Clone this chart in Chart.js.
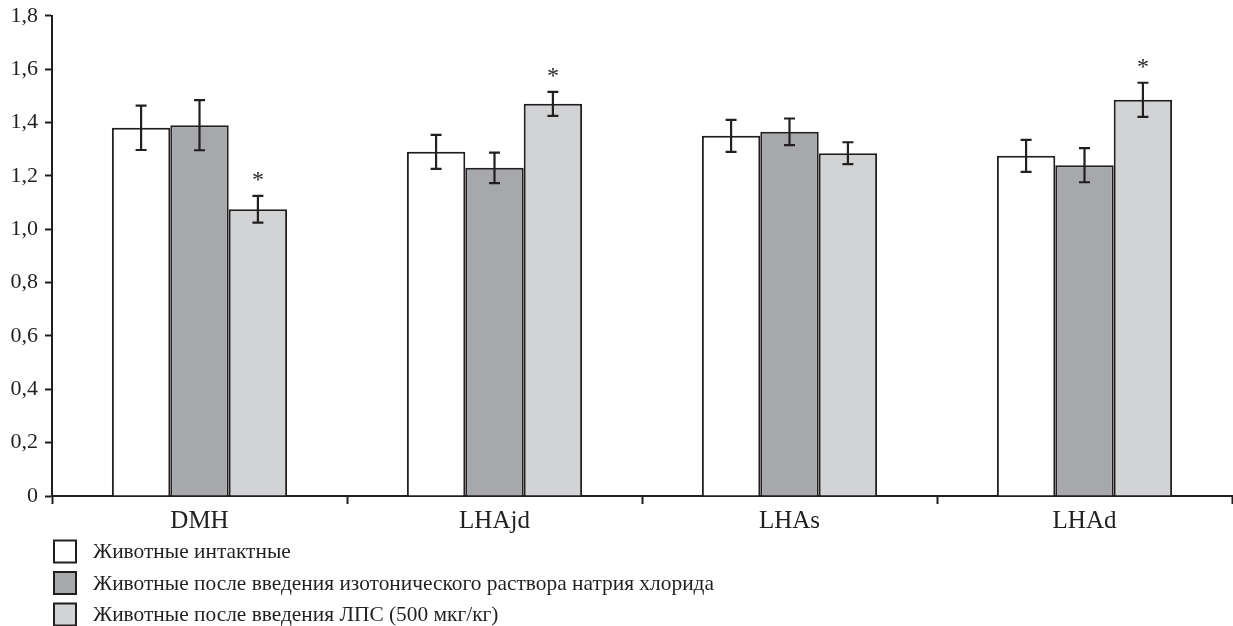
<!DOCTYPE html>
<html lang="ru">
<head>
<meta charset="utf-8">
<title>Экспрессия в областях гипоталамуса</title>
<script src="https://cdn.jsdelivr.net/npm/chart.js@4.4.1/dist/chart.umd.min.js"></script>
<style>
  html, body { margin: 0; padding: 0; background: #ffffff; }
  #wrap { position: relative; width: 1233px; height: 626px; }
</style>
</head>
<body>
<div id="wrap"><canvas id="chart" width="1233" height="626"></canvas></div>
<script>
// Regions of the hypothalamus
const categories = ['DMH', 'LHAjd', 'LHAs', 'LHAd'];

// Group labels
const seriesNames = [
  'Животные интактные',
  'Животные после введения изотонического раствора натрия хлорида',
  'Животные после введения ЛПС (500 мкг/кг)'
];

// Mean values per group
const intactValues = [1.38, 1.29, 1.35, 1.275];
const salineValues = [1.39, 1.23, 1.365, 1.24];
const lpsValues    = [1.075, 1.47, 1.285, 1.485];

// Error half-widths per group
const intactErrors = [0.083, 0.064, 0.06, 0.06];
const salineErrors = [0.094, 0.057, 0.05, 0.064];
const lpsErrors    = [0.05, 0.045, 0.041, 0.064];

// Significance markers (*) per group
const intactSignif = [false, false, false, false];
const salineSignif = [false, false, false, false];
const lpsSignif    = [true, true, false, true];

// Y-axis tick values
const yTicks = [0, 0.2, 0.4, 0.6, 0.8, 1.0, 1.2, 1.4, 1.6, 1.8];

const INK = '#231f20';
const FONT = '"Liberation Serif", "DejaVu Serif", serif';

function fmtTick(v) {
  if (Math.abs(v) < 1e-9) return '0';
  return v.toFixed(1).replace('.', ',');
}

// Error bars and asterisks drawn on top of the bars
const errorBarPlugin = {
  id: 'errorBars',
  afterDatasetsDraw(chart) {
    const ctx = chart.ctx;
    const y = chart.scales.y;
    ctx.save();
    ctx.strokeStyle = INK;
    ctx.lineWidth = 2.2;
    chart.data.datasets.forEach((ds, di) => {
      const meta = chart.getDatasetMeta(di);
      meta.data.forEach((bar, i) => {
        const v = ds.data[i];
        const e = ds.errors[i];
        const x = bar.x;
        const yt = y.getPixelForValue(v + e);
        const yb = y.getPixelForValue(v - e);
        const cap = 5.5;
        ctx.beginPath();
        ctx.moveTo(x, yt); ctx.lineTo(x, yb);
        ctx.moveTo(x - cap, yt); ctx.lineTo(x + cap, yt);
        ctx.moveTo(x - cap, yb); ctx.lineTo(x + cap, yb);
        ctx.stroke();
        if (ds.signif[i]) {
          ctx.fillStyle = INK;
          ctx.font = '24px ' + FONT;
          ctx.textAlign = 'center';
          ctx.textBaseline = 'alphabetic';
          ctx.fillText('*', x, yt - 8.5);
        }
      });
    });
    ctx.restore();
  }
};

// Vertical legend under the axis
const stackLegendPlugin = {
  id: 'stackLegend',
  afterDraw(chart) {
    const ctx = chart.ctx;
    ctx.save();
    chart.data.datasets.forEach((ds, i) => {
      const top = 540.5 + i * 31.5;
      ctx.fillStyle = ds.backgroundColor;
      ctx.fillRect(54, top, 22, 22);
      ctx.strokeStyle = INK;
      ctx.lineWidth = 2;
      ctx.strokeRect(54, top, 22, 22);
      ctx.fillStyle = INK;
      ctx.font = '21.4px ' + FONT;
      ctx.textAlign = 'left';
      ctx.textBaseline = 'middle';
      ctx.fillText(ds.label, 93, top + 12);
    });
    ctx.restore();
  }
};

const makeSet = (label, data, errors, signif, color) => ({
  label, data, errors, signif,
  backgroundColor: color,
  borderColor: INK,
  borderWidth: 2,
  borderSkipped: 'bottom',
  categoryPercentage: 0.594,
  barPercentage: 1.0
});

new Chart(document.getElementById('chart'), {
  type: 'bar',
  data: {
    labels: categories,
    datasets: [
      makeSet(seriesNames[0], intactValues, intactErrors, intactSignif, '#ffffff'),
      makeSet(seriesNames[1], salineValues, salineErrors, salineSignif, '#a7a8ab'),
      makeSet(seriesNames[2], lpsValues, lpsErrors, lpsSignif, '#d2d3d5')
    ]
  },
  options: {
    responsive: false,
    animation: false,
    devicePixelRatio: 1,
    layout: { padding: { top: 15, right: 1, left: 0, bottom: 0 } },
    plugins: {
      legend: { display: false },
      tooltip: { enabled: false }
    },
    scales: {
      x: {
        offset: true,
        grid: {
          offset: true,
          drawOnChartArea: false,
          drawTicks: true,
          tickLength: 8,
          tickWidth: 2,
          tickColor: INK
        },
        border: { display: true, color: INK, width: 2 },
        ticks: {
          color: INK,
          font: { family: FONT, size: 25 },
          padding: 2
        },
        afterFit(scale) { scale.height = 130; }
      },
      y: {
        min: 0,
        max: 1.8,
        afterBuildTicks(scale) {
          scale.ticks = yTicks.map(v => ({ value: v }));
        },
        grid: {
          drawOnChartArea: false,
          drawTicks: true,
          tickLength: 7,
          tickWidth: 2,
          tickColor: INK
        },
        border: { display: true, color: INK, width: 2 },
        ticks: {
          color: INK,
          font: { family: FONT, size: 22, lineHeight: 0.8 },
          padding: 7,
          callback: (v) => fmtTick(v)
        },
        afterFit(scale) { scale.width = 52; }
      }
    }
  },
  plugins: [errorBarPlugin, stackLegendPlugin]
});
</script>
</body>
</html>
